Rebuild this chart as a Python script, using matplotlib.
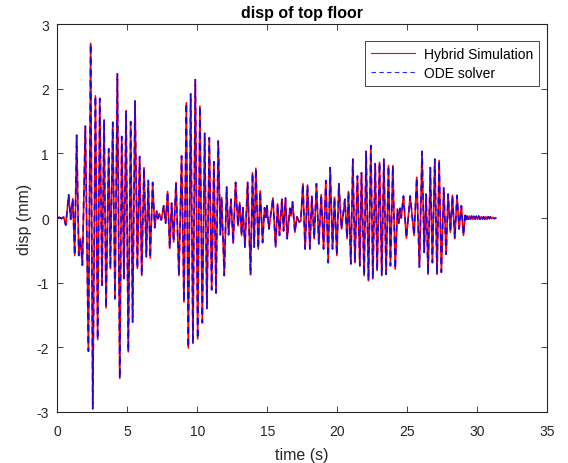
import matplotlib
matplotlib.use('Agg')
import matplotlib.pyplot as plt
import numpy as np

plt.rcParams['font.family'] = ['Liberation Sans', 'DejaVu Sans']
plt.rcParams['axes.unicode_minus'] = False

# top floor displacement, sampled at the turning points of the record
time_s = [
    0.00, 0.15, 0.30, 0.45, 0.60, 0.81, 0.95, 1.10, 1.24, 1.38,
    1.53, 1.65, 1.79, 2.00, 2.22, 2.38, 2.53, 2.72, 2.88, 3.03,
    3.19, 3.34, 3.48, 3.67, 3.79, 3.96, 4.12, 4.29, 4.46, 4.60,
    4.76, 4.91, 5.07, 5.24, 5.38, 5.55, 5.72, 5.88, 6.03, 6.19,
    6.36, 6.50, 6.64, 6.81, 6.96, 7.10, 7.19, 7.29, 7.43, 7.60,
    7.74, 7.88, 8.03, 8.17, 8.31, 8.48, 8.69, 8.88, 9.05, 9.22,
    9.36, 9.53, 9.69, 9.86, 10.03, 10.19, 10.36, 10.53, 10.69, 10.86,
    11.03, 11.19, 11.34, 11.50, 11.65, 11.74, 11.93, 12.10, 12.24, 12.41,
    12.57, 12.74, 12.91, 13.03, 13.17, 13.26, 13.41, 13.60, 13.81, 13.95,
    14.07, 14.19, 14.36, 14.50, 14.67, 14.81, 14.91, 14.98, 15.12, 15.41,
    15.60, 15.74, 15.88, 16.05, 16.17, 16.31, 16.43, 16.62, 16.70, 16.81,
    16.98, 17.12, 17.28, 17.40, 17.55, 17.71, 17.88, 18.05, 18.19, 18.36,
    18.52, 18.69, 18.86, 19.03, 19.19, 19.36, 19.50, 19.67, 19.81, 19.98,
    20.12, 20.31, 20.55, 20.71, 20.81, 20.98, 21.12, 21.27, 21.45, 21.62,
    21.74, 21.93, 22.07, 22.24, 22.41, 22.55, 22.72, 22.86, 23.03, 23.19,
    23.34, 23.50, 23.67, 23.81, 23.98, 24.15, 24.31, 24.40, 24.50, 24.58,
    24.74, 24.95, 25.22, 25.50, 25.69, 25.88, 26.07, 26.22, 26.36, 26.50,
    26.66, 26.81, 26.98, 27.14, 27.29, 27.45, 27.62, 27.79, 27.93, 28.10,
    28.24, 28.41, 28.57, 28.72, 28.88, 29.03, 29.15, 29.20, 29.27, 29.36,
    29.44, 29.53, 29.61, 29.70, 29.78, 29.87, 29.95, 30.04, 30.12, 30.21,
    30.29, 30.38, 30.46, 30.55, 30.63, 30.72, 30.80, 30.89, 30.97, 31.06,
    31.14, 31.23, 31.35,
]
disp_hybrid = [
    0.00, 0.01, -0.01, 0.02, -0.11, 0.36, -0.02, 0.30, -0.58, 1.28,
    -0.58, -0.32, -0.73, 1.42, -2.06, 2.70, -2.95, 1.89, -1.88, 1.85,
    -1.04, 1.52, -1.39, 1.07, -0.78, 1.48, -1.25, 2.23, -2.48, 1.26,
    -0.94, 1.66, -2.07, 1.49, -1.61, 1.81, -0.78, 0.95, -0.89, 0.78,
    -0.60, 0.58, -0.62, 0.55, -0.15, 0.11, -0.01, 0.07, -0.03, 0.19,
    -0.08, 0.41, -0.47, 0.23, -0.37, 0.55, -0.89, 0.96, -1.30, 1.78,
    -2.01, 1.92, -1.94, 2.14, -1.87, 1.73, -1.62, 1.31, -1.40, 1.24,
    -1.11, 0.87, -1.16, 1.19, -0.26, 0.32, -0.89, 0.48, -0.26, 0.29,
    -0.39, 0.55, -0.12, 0.24, -0.27, 0.16, -0.45, 0.55, -0.88, 0.70,
    -0.45, 0.77, -0.48, 0.42, -0.38, 0.16, 0.01, 0.19, -0.17, 0.31,
    -0.45, 0.22, -0.27, 0.29, -0.20, 0.31, -0.32, 0.15, 0.03, 0.25,
    -0.22, 0.02, -0.06, -0.05, 0.53, -0.48, 0.51, -0.48, 0.34, -0.32,
    0.53, -0.40, 0.36, -0.48, 0.58, -0.69, 0.78, -0.48, 0.32, -0.58,
    0.53, -0.17, 0.29, -0.32, 0.41, -0.71, 0.91, -0.69, 0.65, -0.74,
    0.70, -0.89, 1.03, -0.97, 1.12, -0.94, 0.84, -0.81, 0.86, -0.89,
    0.91, -0.87, 0.81, -0.74, 0.81, -0.79, 0.14, -0.08, 0.15, 0.00,
    0.34, -0.31, 0.34, -0.27, 0.63, -0.76, 1.03, -0.53, 0.37, -0.87,
    0.78, -0.69, 0.91, -0.87, 0.89, -0.84, 0.47, -0.56, 0.37, -0.22,
    0.35, -0.32, 0.35, -0.17, 0.19, -0.27, 0.04, -0.03, 0.03, -0.02,
    0.03, -0.02, 0.03, -0.02, 0.03, -0.02, 0.03, -0.02, 0.03, -0.02,
    0.02, -0.02, 0.02, -0.02, 0.02, -0.02, 0.02, -0.01, 0.02, -0.01,
    0.01, -0.01, 0.00,
]
# ODE solution lies on top of the hybrid test result
disp_ode = list(disp_hybrid)

fig = plt.figure(figsize=(5.68, 4.64), dpi=100)
ax = fig.add_axes([0.101, 0.110, 0.862, 0.836])

ax.plot(time_s, disp_hybrid, color='#ff0000', lw=1.2, label='Hybrid Simulation')
ax.plot(time_s, disp_ode, color='#0000ff', lw=1.2, ls=(0, (4, 3)), alpha=0.85,
        label='ODE solver')

ax.set_xlim(0, 35)
ax.set_ylim(-3, 3)
ax.set_xticks(np.arange(0, 36, 5))
ax.set_yticks(np.arange(-3, 4, 1))
ax.tick_params(direction='in', top=True, right=True, length=4, width=0.6,
               labelsize=10, colors='#262626')
ax.tick_params(axis='x', pad=9)
ax.tick_params(axis='y', pad=6)
for s in ax.spines.values():
    s.set_linewidth(0.8)
    s.set_color('#262626')

ax.set_title('disp of top floor', fontsize=11.5, fontweight='bold', pad=5)
ax.set_xlabel('time (s)', fontsize=11.5, color='#262626', labelpad=6)
ax.set_ylabel('disp (mm)', fontsize=11.5, color='#262626', labelpad=3)

leg = ax.legend(loc='upper right', fontsize=10, fancybox=False, framealpha=1,
                edgecolor='#262626', borderpad=0.45, handlelength=3.2,
                labelspacing=0.35, handletextpad=0.6,
                bbox_to_anchor=(0.998, 0.975))
leg.get_frame().set_linewidth(0.6)
for h in leg.get_lines():
    h.set_linewidth(0.8)

fig.savefig('out.png', dpi=100)
